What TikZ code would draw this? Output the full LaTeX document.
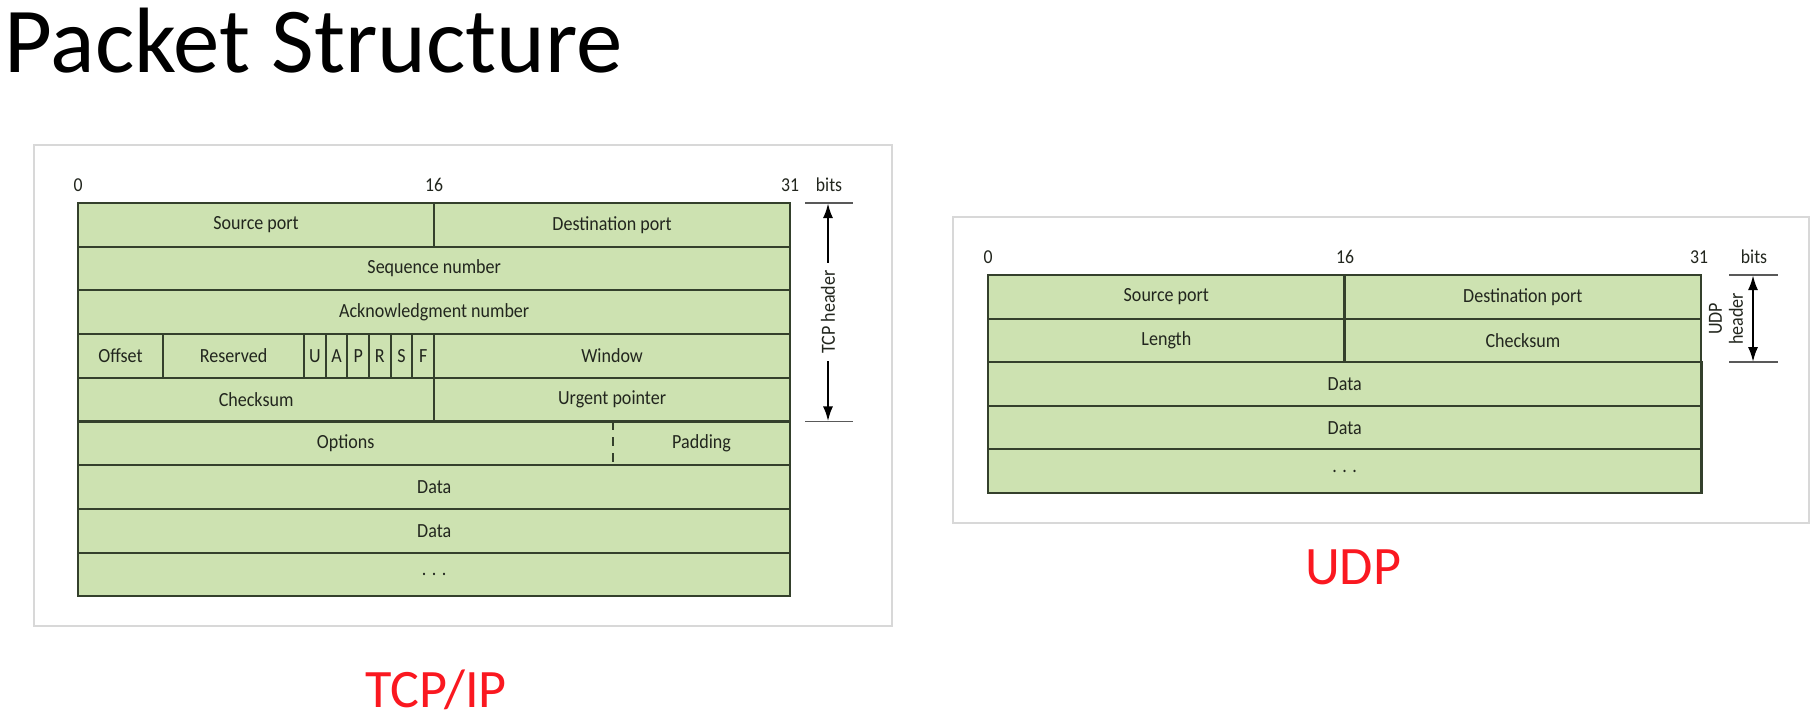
\documentclass[tikz,border=0pt]{standalone}
\usepackage{fontspec}
\setmainfont{Carlito}
\newfontfamily\fieldfont[FakeStretch=0.9]{Carlito}
\usetikzlibrary{arrows.meta}

\definecolor{fieldgreen}{RGB}{205,226,177}
\definecolor{fieldline}{RGB}{52,64,44}
\definecolor{fieldtext}{RGB}{34,38,30}
\definecolor{framegray}{RGB}{216,216,216}
\definecolor{labelred}{RGB}{250,24,32}

\begin{document}
\begin{tikzpicture}
  [x=0.01cm,y=-0.01cm,
   field/.style={draw=fieldline, line width=0.6pt, fill=fieldgreen, anchor=north west,
                 inner sep=0pt, outer sep=0pt, minimum height=0.437cm, text=fieldtext,
                 font=\fieldfont\fontsize{5.7}{6}\selectfont},
   bare/.style={field, draw=none},
   bitno/.style={inner sep=0pt, text=fieldtext, font=\fieldfont\fontsize{5.6}{6}\selectfont},
   panel/.style={draw=framegray, line width=0.6pt, fill=white},
   tick/.style={draw=black!65, line width=0.5pt},
   hdr/.style={{Latex[length=0.15cm,width=0.1cm]}-{Latex[length=0.15cm,width=0.1cm]}, line width=0.7pt},
   proto/.style={anchor=base, inner sep=0pt, text=labelred, font=\fontsize{15.4}{18}\selectfont}]
  \useasboundingbox (0,0) rectangle (1816,722);

  \node[anchor=base west, inner sep=0pt, font=\fontsize{26.4}{30}\selectfont] (title) at (4,73) {Packet Structure};

  % TCP
  \draw[panel] (34,145) rectangle (892,626);
  \node[bitno] (t0) at (78,185) {0};
  \node[bitno] (t16) at (434,185) {16};
  \node[bitno] (t31) at (790,185) {31};
  \node[bitno] (tbits) at (829,185) {bits};

  \node[field, minimum width=3.56cm] (tsrc) at (78,203) {Source port};
  \node[field, minimum width=3.56cm] (tdst) at (434,203) {Destination port};
  \node[field, minimum width=7.12cm] (tseq) at (78,246.7) {Sequence number};
  \node[field, minimum width=7.12cm] (tack) at (78,290.4) {Acknowledgment number};
  \node[field, minimum width=0.85cm] (toff) at (78,334.1) {Offset};
  \node[field, minimum width=1.41cm] (tres) at (163,334.1) {Reserved};
  \foreach \f [count=\i from 0] in {U,A,P,R,S,F}
    \node[field, minimum width=0.2167cm] (tflag\f) at ({304+21.67*\i},334.1) {\f};
  \node[field, minimum width=3.56cm] (twin) at (434,334.1) {Window};
  \node[field, minimum width=3.56cm] (tchk) at (78,377.8) {Checksum};
  \node[field, minimum width=3.56cm] (turg) at (434,377.8) {Urgent pointer};
  \node[bare, minimum width=5.35cm] (topt) at (78,421.5) {Options};
  \node[bare, minimum width=1.77cm] (tpad) at (613,421.5) {Padding};
  \draw[fieldline, line width=0.6pt] (topt.north west) rectangle (tpad.south east);
  \draw[fieldline, line width=0.6pt, dash pattern=on 2.5pt off 2pt] (tpad.north west) -- (tpad.south west);
  \foreach \t [count=\i] in {Data,Data,. . .}
    \node[field, minimum width=7.12cm] (tdata\i) at (78,{421.5+43.7*\i}) {\t};

  \coordinate (ttop) at (828,203);
  \coordinate (tbot) at (828,421.5);
  \draw[tick] ([xshift=-0.23cm]ttop) -- ([xshift=0.25cm]ttop);
  \draw[tick] ([xshift=-0.23cm]tbot) -- ([xshift=0.25cm]tbot);
  \draw[hdr] (ttop) -- (tbot);
  \node[rotate=90, fill=white, inner sep=2pt, text=fieldtext,
        font=\fieldfont\fontsize{5.7}{6}\selectfont] (thdr) at (828,312) {TCP header};

  \node[proto] (tcplbl) at (436,707) {TCP/IP};

  % UDP
  \draw[panel] (953,217) rectangle (1809,523);
  \node[bitno] (u0) at (988,257) {0};
  \node[bitno] (u16) at (1345,257) {16};
  \node[bitno] (u31) at (1699,257) {31};
  \node[bitno] (ubits) at (1754,257) {bits};

  \node[field, minimum width=3.565cm] (usrc) at (988,275) {Source port};
  \node[field, minimum width=3.565cm] (udst) at (1344.5,275) {Destination port};
  \node[field, minimum width=3.565cm] (ulen) at (988,318.6) {Length};
  \node[field, minimum width=3.565cm] (uchk) at (1344.5,318.6) {Checksum};
  \foreach \t [count=\i] in {Data,Data,. . .}
    \node[field, minimum width=7.13cm] (udata\i) at (988,{318.6+43.6*\i}) {\t};

  \coordinate (utop) at (1753,275);
  \coordinate (ubot) at (1753,362.2);
  \draw[tick] ([xshift=-0.24cm]utop) -- ([xshift=0.25cm]utop);
  \draw[tick] ([xshift=-0.24cm]ubot) -- ([xshift=0.25cm]ubot);
  \draw[hdr] (utop) -- (ubot);
  \node[rotate=90, align=center, inner sep=0pt, text=fieldtext,
        font=\fieldfont\fontsize{5.7}{6}\selectfont] (uhdr) at (1726,319) {UDP\\header};

  \node[proto] (udplbl) at (1353,584) {UDP};
\end{tikzpicture}
\end{document}
